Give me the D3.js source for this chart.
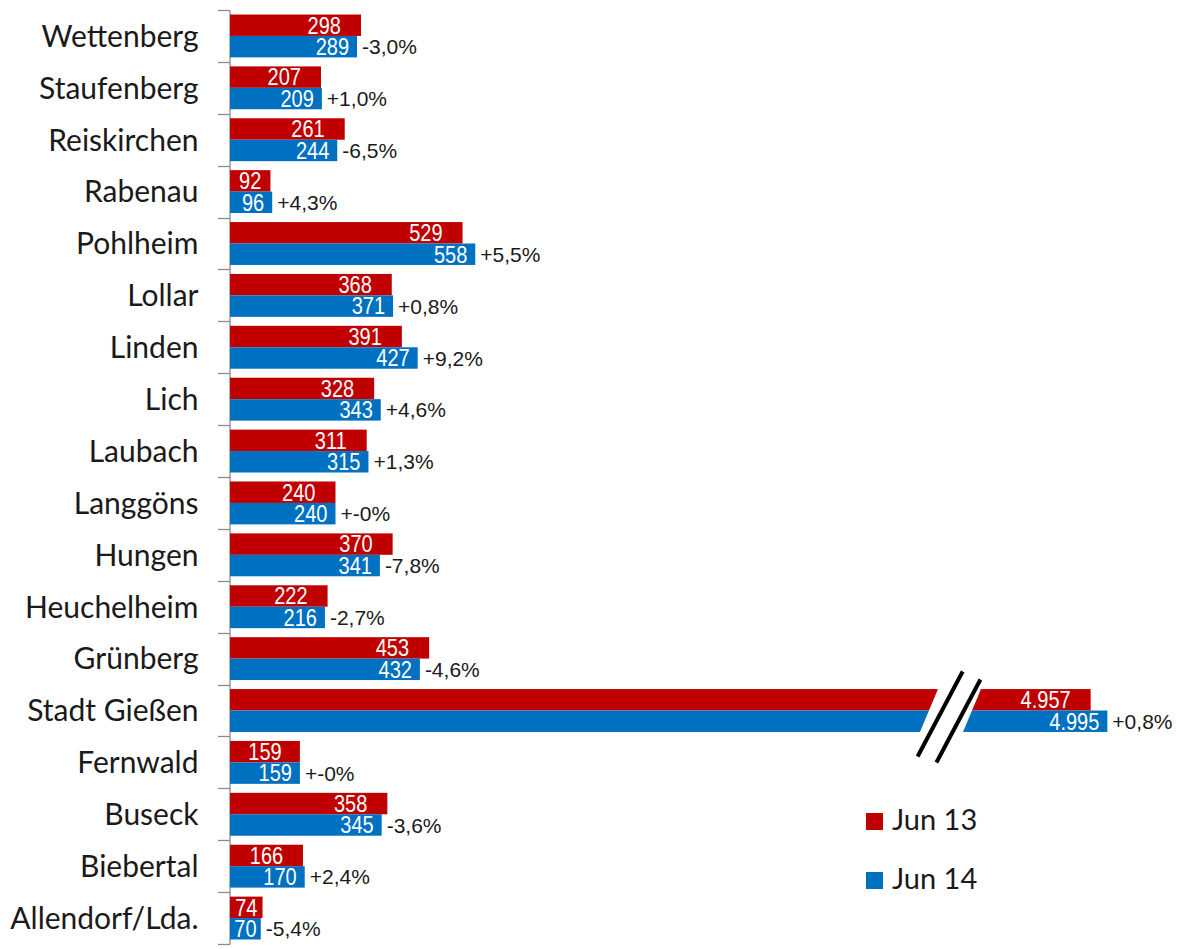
<!DOCTYPE html>
<html>
<head>
<meta charset="utf-8">
<script src="https://d3js.org/d3.v7.min.js"></script>
<style>
    body { margin: 0; background: #fff; }
    svg { display: block; }
    .cat text { font-family: Lato, "Open Sans", sans-serif; font-size: 30px; fill: #1a1a1a; }
    .val { font-family: "Liberation Sans", Arial, sans-serif; font-size: 23px; fill: #fff; }
    .pct { font-family: "Liberation Sans", Arial, sans-serif; font-size: 21px; fill: #1a1a1a; }
    .legend text { font-family: Lato, "Open Sans", sans-serif; font-size: 29px; fill: #1a1a1a; }
</style>
</head>
<body>
<svg width="1184" height="949"></svg>
<script>
var categories = ["Wettenberg", "Staufenberg", "Reiskirchen", "Rabenau", "Pohlheim", "Lollar", "Linden", "Lich", "Laubach",
    "Langgöns", "Hungen", "Heuchelheim", "Grünberg", "Stadt Gießen", "Fernwald", "Buseck", "Biebertal", "Allendorf/Lda."];
var seriesNames = ["Jun 13", "Jun 14"];
var jun13 = [298, 207, 261, 92, 529, 368, 391, 328, 311, 240, 370, 222, 453, 4957, 159, 358, 166, 74];
var jun14 = [289, 209, 244, 96, 558, 371, 427, 343, 315, 240, 341, 216, 432, 4995, 159, 345, 170, 70];
var changeLabels = ["-3,0%", "+1,0%", "-6,5%", "+4,3%", "+5,5%", "+0,8%", "+9,2%", "+4,6%", "+1,3%", "+-0%",
    "-7,8%", "-2,7%", "-4,6%", "+0,8%", "+-0%", "-3,6%", "+2,4%", "-5,4%"];

var colors = ["#c00000", "#0070c0"];
var breakLow = 1638, breakHigh = 4637;   // axis is cut between these two values

var svg = d3.select("svg");
var plotLeft = 230, plotTop = 10, plotBottom = 944;
var narrow = 0.87;   // value labels use a condensed face

// broken value scale: same slope on both sides of the cut
var x = d3.scaleLinear()
    .domain([0, breakLow, breakHigh, 5100])
    .range([plotLeft, 950, 950, 950 + (5100 - breakHigh) * 720 / breakLow]);

var y = d3.scaleBand().domain(categories).range([plotTop, plotBottom]);
var ySub = d3.scaleBand().domain(seriesNames).range([0, y.bandwidth()]).paddingOuter(0.21);

var de = d3.formatLocale({ decimal: ",", thousands: ".", grouping: [3], currency: ["", " €"] });
var fmt = de.format(",");

var rows = categories.map(function(c, i) {
    return { cat: c, vals: [jun13[i], jun14[i]], pct: changeLabels[i] };
});

// category axis
var axis = svg.append("g")
    .attr("class", "cat")
    .attr("transform", "translate(" + (plotLeft - 0.5) + ",0)")
    .call(d3.axisLeft(y).tickSize(0).tickPadding(31));
axis.select(".domain").attr("stroke", "#8c8c8c").attr("stroke-width", 1.3);
axis.selectAll("text").attr("dy", "0.36em");

// tick marks at the category boundaries
svg.append("g").selectAll("line")
    .data(d3.range(categories.length + 1))
    .join("line")
    .attr("x1", plotLeft - 12).attr("x2", plotLeft)
    .attr("y1", function(i) { return Math.round(plotTop + i * y.step()) + 0.5; })
    .attr("y2", function(i) { return Math.round(plotTop + i * y.step()) + 0.5; })
    .attr("stroke", "#8c8c8c").attr("stroke-width", 1.3);

var groups = svg.append("g").selectAll("g")
    .data(rows)
    .join("g")
    .attr("transform", function(d) { return "translate(0," + y(d.cat) + ")"; });

seriesNames.forEach(function(s, k) {
    groups.append("rect")
        .attr("x", plotLeft)
        .attr("y", ySub(s))
        .attr("width", function(d) { return x(d.vals[k]) - plotLeft; })
        .attr("height", ySub.bandwidth())
        .attr("fill", colors[k]);

    groups.append("text")
        .attr("class", "val")
        .attr("text-anchor", "end")
        .attr("dy", "0.36em")
        .text(function(d) { return fmt(d.vals[k]); })
        .attr("transform", function(d) {
            var end = x(d.vals[k]);
            var w = this.getComputedTextLength() * narrow;
            var gap = Math.min(k === 0 ? 20 : 8, (end - plotLeft - w) / 2);
            return "translate(" + (end - gap) + "," + (ySub(s) + ySub.bandwidth() / 2) + ") scale(" + narrow + ",1)";
        });
});

groups.append("text")
    .attr("class", "pct")
    .attr("x", function(d) { return x(d.vals[1]) + 5; })
    .attr("y", ySub(seriesNames[1]) + ySub.bandwidth() / 2)
    .attr("dy", "0.36em")
    .text(function(d) { return d.pct; });

// break marks on the bars that cross the cut
var broken = rows.filter(function(d) { return d3.max(d.vals) > breakHigh; });
broken.forEach(function(d) {
    var cx = x(breakLow), cy = y(d.cat) + y.bandwidth() / 2;
    var t = ySub(seriesNames[0]) + y(d.cat), b = t + 2 * ySub.bandwidth();
    var sl = 0.44;
    svg.append("polygon")
        .attr("points", [
            [cx - 21 + (cy - t) * sl, t - 1], [cx + 22 + (cy - t) * sl, t - 1],
            [cx + 22 - (b - cy) * sl, b + 1], [cx - 21 - (b - cy) * sl, b + 1]
        ].map(function(p) { return p.join(","); }).join(" "))
        .attr("fill", "#fff");
    [[-8, -39, 46], [14, -31, 52]].forEach(function(m) {
        var s2 = 0.53;
        svg.append("line")
            .attr("x1", cx + m[0] - m[1] * s2).attr("y1", cy + m[1])
            .attr("x2", cx + m[0] - m[2] * s2).attr("y2", cy + m[2])
            .attr("stroke", "#000").attr("stroke-width", 4);
    });
});

// legend
var legend = svg.append("g").attr("class", "legend");
seriesNames.forEach(function(s, k) {
    legend.append("rect")
        .attr("x", 866).attr("y", 813 + k * 59)
        .attr("width", 17).attr("height", 17)
        .attr("fill", colors[k]);
    legend.append("text")
        .attr("x", 892).attr("y", 830 + k * 59)
        .text(s);
});
</script>
</body>
</html>
